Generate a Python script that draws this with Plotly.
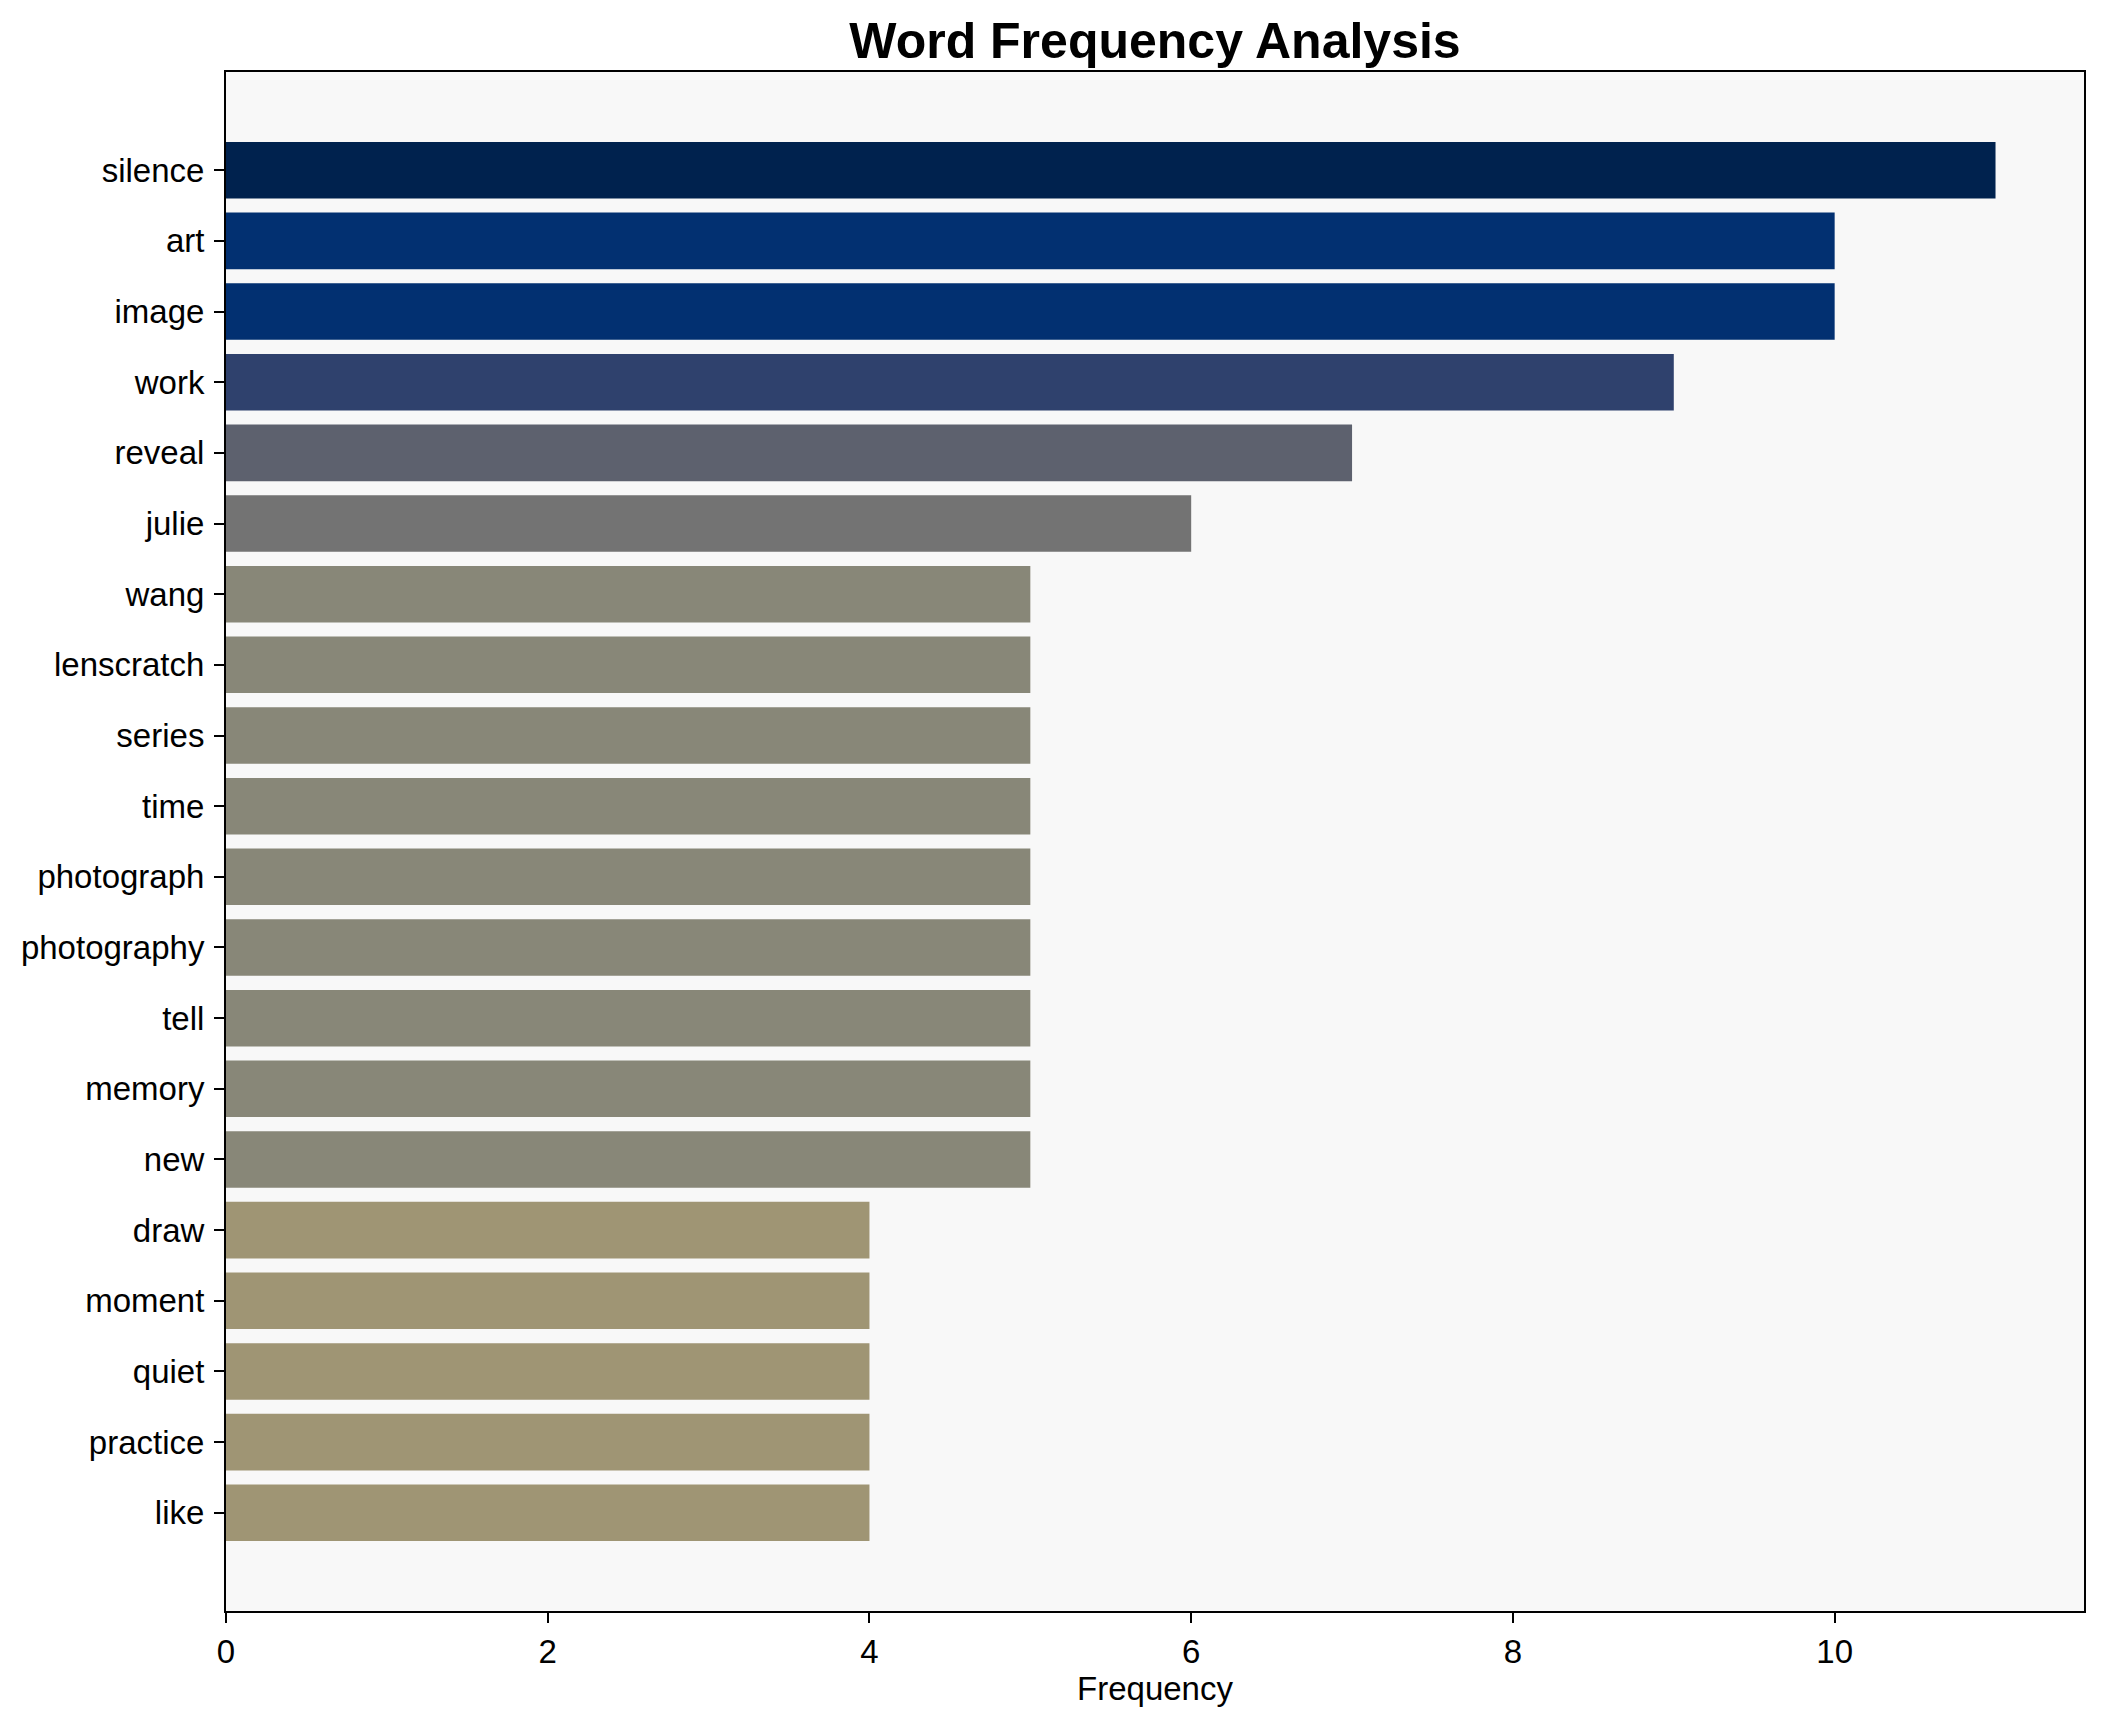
import plotly.graph_objects as go

words = ["silence", "art", "image", "work", "reveal", "julie", "wang", "lenscratch",
         "series", "time", "photograph", "photography", "tell", "memory", "new",
         "draw", "moment", "quiet", "practice", "like"]
counts = [11, 10, 10, 9, 7, 6, 5, 5, 5, 5, 5, 5, 5, 5, 5, 4, 4, 4, 4, 4]
x_ticks = [0, 2, 4, 6, 8, 10]

FONT = "Liberation Sans, Arial, Helvetica, sans-serif"
W, H = 2105, 1722

# reversed cividis-like scale (value / max -> colour)
cividis_r = [
    [0.0, "#fee838"], [0.2, "#cbba69"], [0.3636, "#9f9574"], [0.4545, "#888778"],
    [0.5455, "#737373"], [0.6364, "#5d616e"], [0.8182, "#2f416d"],
    [0.9091, "#023071"], [1.0, "#00224e"],
]

fig = go.Figure(go.Bar(
    x=counts,
    y=words,
    orientation="h",
    width=0.8,
    marker=dict(color=counts, colorscale=cividis_r,
                cmin=0, cmax=max(counts), line=dict(width=0)),
    hoverinfo="x+y",
))

n = len(words)
fig.update_layout(
    width=W, height=H,
    margin=dict(l=218, r=29, t=64, b=119, pad=0),
    paper_bgcolor="white",
    plot_bgcolor="#f8f8f8",
    font=dict(family=FONT, size=33, color="black"),
    showlegend=False,
    title=dict(text="<b>Word Frequency Analysis</b>", x=0.5, xref="paper",
               y=1 - 32 / H, yref="container", xanchor="center", yanchor="middle",
               font=dict(family=FONT, size=50, color="black")),
    bargap=0.2,
)
fig.update_xaxes(
    range=[0, max(counts) * 1.05],
    tickmode="array", tickvals=x_ticks, ticktext=[str(t) for t in x_ticks],
    showgrid=False, zeroline=False,
    showline=True, linecolor="black", linewidth=2, mirror=True,
    ticks="outside", ticklen=10, tickwidth=2, tickcolor="black",
    tickfont=dict(family=FONT, size=33, color="black"),
    title=dict(text="Frequency", standoff=1, font=dict(family=FONT, size=33, color="black")),
)
fig.update_yaxes(
    type="category",
    categoryorder="array", categoryarray=words,
    range=[n - 1 + 1.39, -1.39],
    showgrid=False, zeroline=False,
    showline=True, linecolor="black", linewidth=2, mirror=True,
    ticks="outside", ticklen=10, tickwidth=2, tickcolor="black",
    ticklabelstandoff=3,
    tickfont=dict(family=FONT, size=33, color="black"),
)

fig.write_html("out.html")
